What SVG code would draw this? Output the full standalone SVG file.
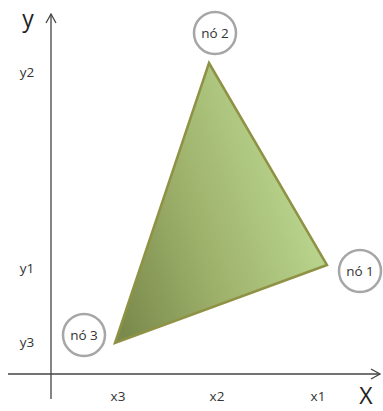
<svg xmlns="http://www.w3.org/2000/svg" width="383" height="411" viewBox="0 0 383 411">
<defs>
<style>
.lbl{font-family:"Open Sans","Liberation Sans",sans-serif;font-size:13.5px;fill:#333}
.ax{font-family:"Open Sans","Liberation Sans",sans-serif;font-size:23px;fill:#222}
.node{fill:#fff;stroke:#a6a6a6;stroke-width:2.5}
.axis{stroke:#444;stroke-width:1.3;fill:none}
</style>
<linearGradient id="g" x1="120" y1="320" x2="327" y2="250" gradientUnits="userSpaceOnUse">
<stop offset="0" stop-color="#7a8a4c"/>
<stop offset="0.45" stop-color="#9db06a"/>
<stop offset="1" stop-color="#bad68e"/>
</linearGradient>
</defs>
<rect width="383" height="411" fill="#fff"/>
<g id="axes">
<line class="axis" x1="51" y1="399" x2="51" y2="14"/>
<polyline class="axis" points="46,23 51,14 56,23"/>
<line class="axis" x1="8" y1="374" x2="380" y2="374"/>
<polyline class="axis" points="371,369 380,374 371,379"/>
<text class="ax" x="28" y="27" text-anchor="middle">y</text>
<text class="ax" x="366" y="404" text-anchor="middle">X</text>
<text class="lbl" x="27" y="77" text-anchor="middle">y2</text>
<text class="lbl" x="27" y="273" text-anchor="middle">y1</text>
<text class="lbl" x="27" y="347" text-anchor="middle">y3</text>
<text class="lbl" x="118" y="401" text-anchor="middle">x3</text>
<text class="lbl" x="217" y="401" text-anchor="middle">x2</text>
<text class="lbl" x="318" y="401" text-anchor="middle">x1</text>
</g>
<g id="element">
<polygon points="209,63 327,265 115,343" fill="url(#g)" stroke="#8f9245" stroke-width="2.5" stroke-linejoin="miter"/>
</g>
<g id="node2">
<circle class="node" cx="215" cy="33" r="21"/>
<text class="lbl" x="215" y="38" text-anchor="middle">nó 2</text>
</g>
<g id="node1">
<circle class="node" cx="360" cy="271" r="21"/>
<text class="lbl" x="360" y="276" text-anchor="middle">nó 1</text>
</g>
<g id="node3">
<circle class="node" cx="84" cy="335" r="21"/>
<text class="lbl" x="84" y="340" text-anchor="middle">nó 3</text>
</g>
</svg>
